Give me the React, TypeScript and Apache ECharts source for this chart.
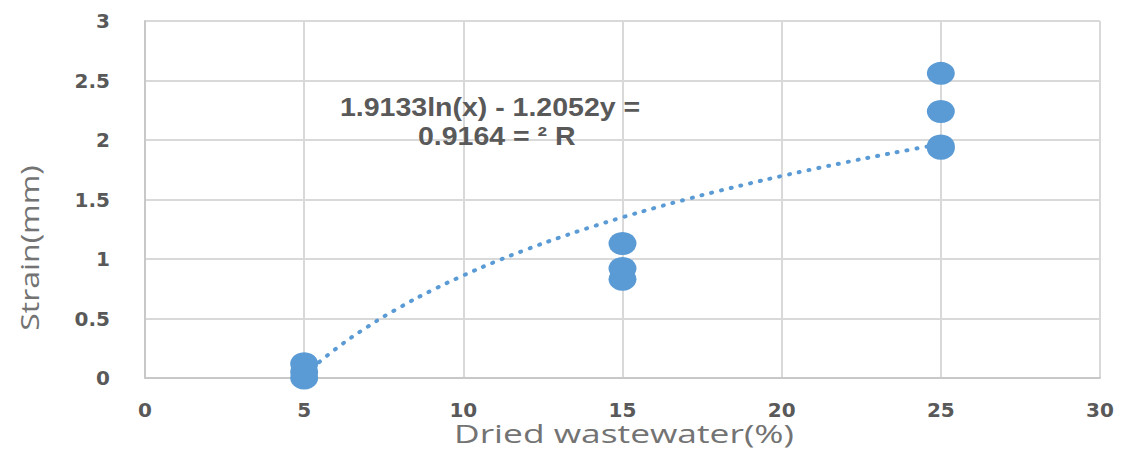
import React, { useEffect, useRef } from "react";
import * as echarts from "echarts";

const xTicks = [0, 5, 10, 15, 20, 25, 30];
const yTicks = [0, 0.5, 1, 1.5, 2, 2.5, 3];
const pointsX = [5, 5, 5, 15, 15, 15, 25, 25, 25, 25];
const pointsY = [0.12, 0.05, 0.0, 1.13, 0.92, 0.83, 2.56, 2.24, 1.95, 1.93];
// logarithmic trendline as printed on the chart: y = a ln(x) + b
const trendA = 1.2052;
const trendB = -1.9133;
const trendXs = [5, 6, 7, 8, 9, 10, 11, 12, 13, 14, 15, 16, 17, 18, 19, 20, 21, 22, 23, 24, 25];
const eqLine1 = "1.9133ln(x) - 1.2052y =";
const eqLine2 = "0.9164 = ² R";
const xName = "Dried wastewater(%)";
const yName = "Strain(mm)";

export default function App() {
  const ref = useRef<HTMLDivElement>(null);
  useEffect(() => {
    const chart = echarts.init(ref.current!, null, { renderer: "svg" });
    const grey = "#595959";
    const nameGrey = "#737373";
    chart.setOption({
      animation: false,
      backgroundColor: "#ffffff",
      grid: { left: 145, right: 27, top: 21, bottom: 81, containLabel: false },
      xAxis: {
        type: "value",
        min: xTicks[0],
        max: xTicks[xTicks.length - 1],
        interval: 5,
        axisLine: { show: true, lineStyle: { color: "#c8c8c8", width: 2 } },
        axisTick: { show: false },
        axisLabel: { fontSize: 20, color: grey, margin: 22, fontFamily: "DejaVu Sans", fontWeight: "bold" },
        splitLine: { show: true, lineStyle: { color: "#d9d9d9", width: 2 } },
      },
      yAxis: {
        type: "value",
        min: yTicks[0],
        max: yTicks[yTicks.length - 1],
        interval: 0.5,
        axisLine: { show: true, lineStyle: { color: "#c8c8c8", width: 2 } },
        axisTick: { show: false },
        axisLabel: { fontSize: 20, color: grey, margin: 35, fontFamily: "DejaVu Sans", fontWeight: "bold" },
        splitLine: { show: true, lineStyle: { color: "#d9d9d9", width: 2 } },
      },
      series: [
        {
          type: "line",
          data: trendXs.map((x) => [x, trendA * Math.log(x) + trendB]),
          symbol: "none",
          smooth: true,
          lineStyle: { color: "#5b9bd5", width: 4, type: [1, 9], cap: "round" },
          z: 2,
        },
        {
          type: "scatter",
          data: pointsX.map((x, i) => [x, pointsY[i]]),
          symbol: "circle",
          symbolSize: [28, 23],
          itemStyle: { color: "#5b9bd5", opacity: 1 },
          z: 3,
        },
      ],
      graphic: [
        {
          type: "text",
          x: 340,
          y: 108,
          scaleX: 1.14,
          style: { text: eqLine1, fontSize: 25, fontWeight: "bold", fill: grey, fontFamily: "Liberation Sans", align: "left", verticalAlign: "middle" },
          z: 10,
        },
        {
          type: "text",
          x: 418,
          y: 137,
          scaleX: 1.14,
          style: { text: eqLine2, fontSize: 25, fontWeight: "bold", fill: grey, fontFamily: "Liberation Sans", align: "left", verticalAlign: "middle" },
          z: 10,
        },
        {
          type: "text",
          x: 624,
          y: 433,
          scaleX: 1.36,
          style: { text: xName, fontSize: 26, fill: nameGrey, fontFamily: "Open Sans", align: "center", verticalAlign: "middle" },
        },
        {
          type: "text",
          x: 29,
          y: 248,
          rotation: Math.PI / 2,
          scaleX: 1.23,
          style: { text: yName, fontSize: 26, fill: nameGrey, fontFamily: "Open Sans", align: "center", verticalAlign: "middle" },
        },
      ],
    });
    return () => chart.dispose();
  }, []);
  return <div ref={ref} style={{ position: "fixed", left: 0, top: 0, width: 1127, height: 459 }} />;
}
